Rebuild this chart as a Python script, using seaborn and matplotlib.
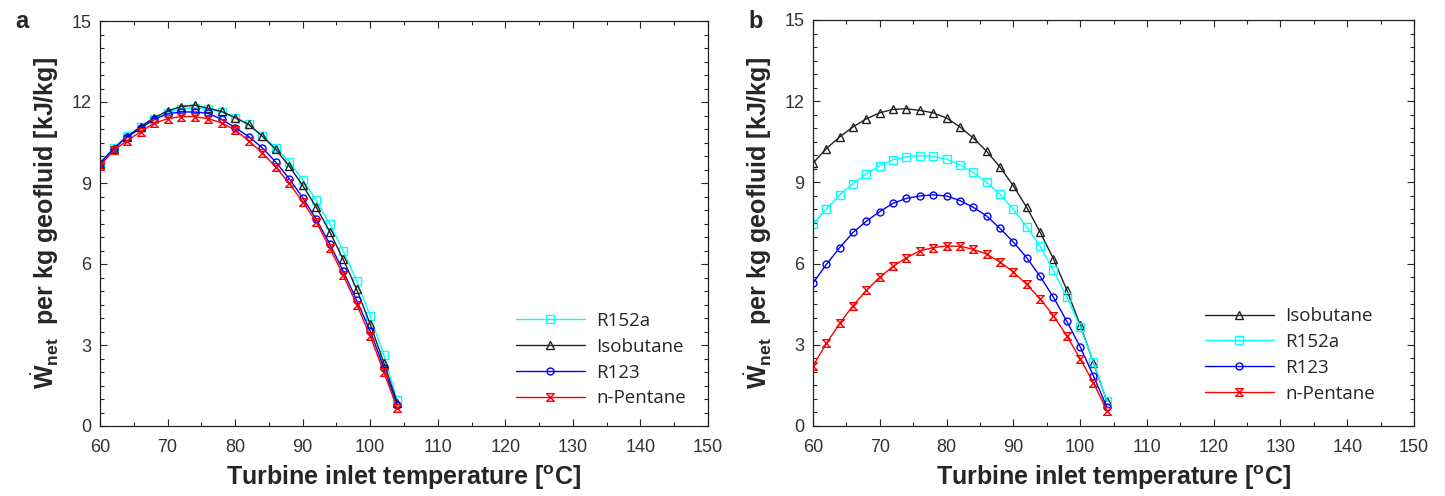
import numpy as np
import pandas as pd
import matplotlib
matplotlib.use("Agg")
import matplotlib.pyplot as plt
from matplotlib.path import Path
from matplotlib.ticker import MultipleLocator
import seaborn as sns

# temperaturas de entrada da turbina (oC)
temps = list(range(60, 106, 2))

# painel a - trabalho liquido por kg de geofluido (kJ/kg)
a_r152a = [9.75, 10.28, 10.74, 11.07, 11.38, 11.60, 11.75, 11.79, 11.73, 11.63, 11.42, 11.17,
           10.74, 10.31, 9.79, 9.11, 8.36, 7.49, 6.48, 5.37, 4.07, 2.63, 0.95]
a_isobutane = [9.72, 10.27, 10.72, 11.08, 11.42, 11.67, 11.83, 11.88, 11.77, 11.65, 11.42, 11.17,
               10.74, 10.25, 9.63, 8.91, 8.11, 7.20, 6.17, 5.06, 3.77, 2.35, 0.86]
a_r123 = [9.72, 10.27, 10.70, 11.02, 11.36, 11.56, 11.63, 11.63, 11.58, 11.36, 11.05, 10.72,
          10.31, 9.78, 9.16, 8.46, 7.66, 6.75, 5.74, 4.65, 3.52, 2.16, 0.78]
a_npentane = [9.63, 10.21, 10.56, 10.90, 11.21, 11.38, 11.46, 11.46, 11.38, 11.23, 10.96, 10.57,
              10.12, 9.60, 8.99, 8.30, 7.56, 6.60, 5.59, 4.50, 3.33, 2.01, 0.65]

# painel b
b_isobutane = [9.71, 10.25, 10.68, 11.05, 11.35, 11.57, 11.70, 11.72, 11.66, 11.57, 11.38, 11.05,
               10.64, 10.15, 9.57, 8.87, 8.08, 7.17, 6.18, 5.03, 3.74, 2.34, 0.92]
b_r152a = [7.46, 8.02, 8.54, 8.95, 9.32, 9.62, 9.84, 9.94, 9.99, 9.96, 9.86, 9.65,
           9.37, 9.00, 8.56, 8.00, 7.36, 6.64, 5.75, 4.78, 3.67, 2.37, 0.92]
b_r123 = [5.28, 5.97, 6.59, 7.15, 7.57, 7.92, 8.23, 8.41, 8.50, 8.54, 8.50, 8.33,
          8.08, 7.76, 7.30, 6.80, 6.22, 5.53, 4.76, 3.87, 2.93, 1.85, 0.70]
b_npentane = [2.22, 3.05, 3.79, 4.45, 5.01, 5.50, 5.90, 6.22, 6.47, 6.59, 6.65, 6.64,
              6.53, 6.35, 6.06, 5.69, 5.23, 4.70, 4.08, 3.33, 2.49, 1.60, 0.57]

x_ticks = [60, 70, 80, 90, 100, 110, 120, 130, 140, 150]
y_ticks = [0, 3, 6, 9, 12, 15]

sns.set_style("ticks")
plt.rcParams["font.family"] = ["Liberation Sans", "DejaVu Sans"]
plt.rcParams["mathtext.fontset"] = "custom"
plt.rcParams["mathtext.rm"] = "Liberation Sans"
plt.rcParams["mathtext.bf"] = "Liberation Sans:bold"
plt.rcParams["xtick.direction"] = "in"
plt.rcParams["ytick.direction"] = "in"

# marcador ampulheta para o n-Pentane
ampulheta = Path([(-1, 1), (1, 1), (-1, -1), (1, -1), (-1, 1)],
                 [Path.MOVETO, Path.LINETO, Path.LINETO, Path.LINETO, Path.CLOSEPOLY])

estilos = {
    "R152a": ("#00FFFF", "s", 5.5),
    "Isobutane": ("#222222", "^", 6),
    "R123": ("#0000FF", "o", 5),
    "n-Pentane": ("#FF0000", ampulheta, 5.5),
}

fig = plt.figure(figsize=(14.45, 4.96), dpi=100)
ax_a = fig.add_axes([100 / 1445, 70 / 496, 608 / 1445, 405 / 496])
ax_b = fig.add_axes([813 / 1445, 70 / 496, 601 / 1445, 406 / 496])

series_a = [("R152a", a_r152a), ("Isobutane", a_isobutane), ("R123", a_r123), ("n-Pentane", a_npentane)]
series_b = [("Isobutane", b_isobutane), ("R152a", b_r152a), ("R123", b_r123), ("n-Pentane", b_npentane)]

xlabel = r"Turbine inlet temperature [$^{\mathbf{o}}$C]"
ylabel = r"$\dot{\mathbf{W}}_{\mathbf{net}}$  per kg geofluid [kJ/kg]"

for ax, series, leg_pos in [(ax_a, series_a, (0.668, 0.305)), (ax_b, series_b, (0.636, 0.316))]:
    for nome, valores in series:
        cor, marc, tam = estilos[nome]
        df = pd.DataFrame({"T": temps, "W": valores})
        sns.lineplot(data=df, x="T", y="W", ax=ax, color=cor, marker=marc, markersize=tam,
                     mfc="none", mec=cor, mew=1.0, linewidth=1.0, label=nome)
    ax.set_xlim(60, 150)
    ax.set_ylim(0, 15)
    ax.set_xticks(x_ticks)
    ax.set_yticks(y_ticks)
    ax.xaxis.set_minor_locator(MultipleLocator(5))
    ax.yaxis.set_minor_locator(MultipleLocator(0.5))
    ax.tick_params(which="both", top=True, right=True, labelsize=13, labelcolor="#333333", width=0.8)
    ax.tick_params(which="major", length=5)
    ax.tick_params(which="minor", length=3)
    ax.tick_params(axis="x", which="both", pad=9)
    ax.tick_params(axis="y", which="both", pad=6)
    for sp in ax.spines.values():
        sp.set_linewidth(0.9)
        sp.set_color("#222222")
    ax.set_xlabel(xlabel, fontsize=18, fontweight="bold", labelpad=6)
    ax.set_ylabel(ylabel, fontsize=18, fontweight="bold", labelpad=8)
    ax.legend(loc="upper left", bbox_to_anchor=leg_pos, frameon=False, borderpad=0,
              handlelength=3.7, handletextpad=0.6, labelspacing=0.42,
              prop={"family": "Open Sans", "size": 13.5})

fig.text(15 / 1445, 1 - 22 / 496, "a", fontsize=17, fontweight="bold", va="center")
fig.text(748 / 1445, 1 - 22 / 496, "b", fontsize=17, fontweight="bold", va="center")

fig.savefig("out.png", dpi=100)
